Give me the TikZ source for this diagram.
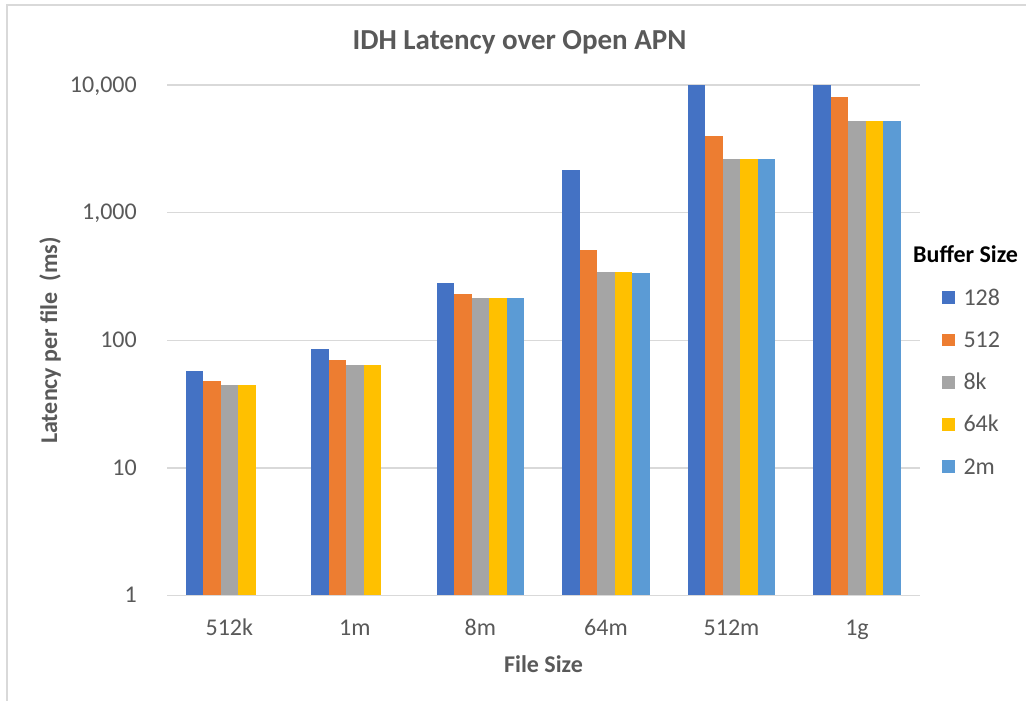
\documentclass[tikz,border=0pt]{standalone}
\usepackage{fontspec}
\setmainfont{Carlito}
\definecolor{ser0}{HTML}{4472C4}
\definecolor{ser1}{HTML}{ED7D31}
\definecolor{ser2}{HTML}{A5A5A5}
\definecolor{ser3}{HTML}{FFC000}
\definecolor{ser4}{HTML}{5B9BD5}
\definecolor{txtgray}{HTML}{595959}
\definecolor{gridgray}{HTML}{D9D9D9}
\tikzset{
  frameline/.style={draw=gridgray, line width=2pt},
  gridline/.style={draw=gridgray, line width=1.5pt},
  ticklabel/.style={text=txtgray, font=\fontsize{24}{28}\selectfont, inner sep=0pt},
  axistitle/.style={text=txtgray, font=\bfseries\fontsize{24}{28}\selectfont, inner sep=0pt},
  charttitle/.style={text=txtgray, font=\bfseries\fontsize{29}{34}\selectfont, inner sep=0pt},
  legtitle/.style={text=black, font=\bfseries\fontsize{24}{28}\selectfont, inner sep=0pt},
  legtext/.style={text=txtgray, font=\fontsize{24}{28}\selectfont, inner sep=0pt},
}
\begin{document}
\begin{tikzpicture}[x=1pt,y=-1pt]
\useasboundingbox (0,0) rectangle (1026,701);
\fill[white] (0,0) rectangle (1026,701);
% chart frame (only left and top edges fall inside the area)
\draw[frameline] (7,701) -- (7,5) -- (1026,5);

% horizontal gridlines and logarithmic axis labels
\foreach \d/\lab in {0/1,1/10,2/100,3/{1,000},4/{10,000}}{
  \pgfmathsetmacro\yy{595.7-127.67*\d}
  \draw[gridline] (167,\yy) -- (920,\yy);
  \node[ticklabel, anchor=base east] (tick\d) at (137,\yy+7) {\lab};
}

% clustered bars, one group per file size
\foreach \g/\vals in {0/{57.9,48.3,45,45},
                      1/{85.6,70.2,64.1,64.1},
                      2/{282.8,229.5,215.9,215.9,215.9},
                      3/{2160,510,343,343,337},
                      4/{10000,4010,2620,2620,2620},
                      5/{10000,8055,5256,5256,5256}}{
  \foreach \v [count=\i from 0] in \vals {
    \pgfmathsetmacro\ytop{595.7-127.67*log10(\v)}
    \pgfmathsetmacro\xa{185.7+125.55*\g+17.45*\i}
    \fill[ser\i] (\xa,\ytop) rectangle (\xa+17.45,595.7);
  }
}
\draw[gridline] (167,595.7) -- (920,595.7);

% category labels
\foreach \g/\lab in {0/512k,1/1m,2/8m,3/64m,4/512m,5/1g}{
  \node[ticklabel, anchor=base] (cat\g) at (229.3+125.55*\g,635.5) {\lab};
}

% titles
\node[charttitle, anchor=base] (title) at (519.5,49.3) {IDH Latency over Open APN};
\node[axistitle, anchor=base] (xtitle) at (543.5,672.3) {File Size};
\node[axistitle, anchor=base, rotate=90] (ytitle) at (57,340.5) {Latency per file\ \ (ms)};

% legend
\node[legtitle, anchor=base west] (legtitle) at (913,262.7) {Buffer Size};
\foreach \lab [count=\i from 0] in {128,512,8k,64k,2m}{
  \pgfmathsetmacro\yc{297.7+42.25*\i}
  \fill[ser\i] (942.3,\yc-6.35) rectangle (955,\yc+6.35);
  \node[legtext, anchor=base west] (leg\i) at (963.3,\yc+7.5) {\lab};
}
\end{tikzpicture}
\end{document}
